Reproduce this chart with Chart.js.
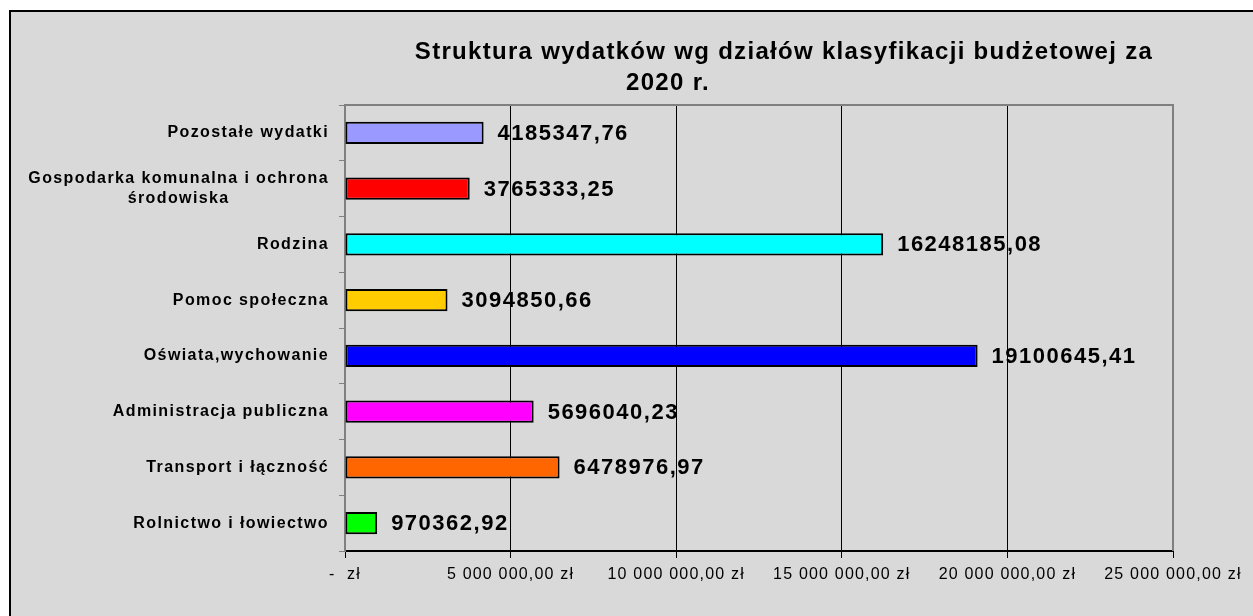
<!DOCTYPE html>
<html>
<head>
<meta charset="utf-8">
<script src="https://cdn.jsdelivr.net/npm/chart.js@4"></script>
<style>
body { margin: 0; background: #fff; width: 1253px; height: 616px; overflow: hidden; position: relative; }
#frame { position: absolute; left: 9px; top: 10px; width: 1300px; height: 700px; border: 2px solid #000; background: #d9d9d9; }
#wrap { position: absolute; left: 0; top: 0; width: 1253px; height: 616px; }
</style>
</head>
<body>
<div id="frame"></div>
<div id="wrap"><canvas id="myChart" width="1253" height="616"></canvas></div>
<script>
const categories = [
    ['Pozostałe wydatki'],
    ['Gospodarka komunalna i ochrona', 'środowiska'],
    ['Rodzina'],
    ['Pomoc społeczna'],
    ['Oświata,wychowanie'],
    ['Administracja publiczna'],
    ['Transport i łączność'],
    ['Rolnictwo i łowiectwo']
];
const amounts = [4185347.76, 3765333.25, 16248185.08, 3094850.66, 19100645.41, 5696040.23, 6478976.97, 970362.92];
const barColors = ['#9999ff', '#ff0000', '#00ffff', '#ffcc00', '#0000ff', '#ff00ff', '#ff6600', '#00ff00'];
const titleLines = ['Struktura wydatków wg działów klasyfikacji budżetowej za', '2020 r.'];
const axisMax = 25000000;
const axisStep = 5000000;

const FONT = '"Liberation Sans", Arial, sans-serif';

function formatZl(v) {
    if (v === 0) return '-  zł';
    const parts = v.toFixed(2).split('.');
    return parts[0].replace(/\B(?=(\d{3})+(?!\d))/g, ' ') + ',' + parts[1] + ' zł';
}

function formatAmount(v) {
    return v.toFixed(2).replace('.', ',');
}

const extras = {
    id: 'extras',
    // tick labels in the original are a bit spread out
    beforeLayout(chart) { chart.ctx.letterSpacing = '1.2px'; },
    beforeDraw(chart) { chart.ctx.letterSpacing = '1.2px'; },
    afterDraw(chart) {
        const ctx = chart.ctx;
        const area = chart.chartArea;
        const yScale = chart.scales.y;

        // grey frame of the plot area (top + right)
        ctx.save();
        ctx.strokeStyle = '#808080';
        ctx.lineWidth = 2;
        ctx.beginPath();
        ctx.moveTo(area.left, area.top);
        ctx.lineTo(area.right, area.top);
        ctx.lineTo(area.right, area.bottom);
        ctx.stroke();
        ctx.restore();

        // category labels
        ctx.save();
        ctx.fillStyle = '#000';
        ctx.font = 'bold 16px ' + FONT;
        ctx.letterSpacing = '1.4px';
        ctx.textBaseline = 'middle';
        ctx.textAlign = 'center';
        categories.forEach((lines, i) => {
            const y = yScale.getPixelForValue(i);
            const widths = lines.map(l => ctx.measureText(l).width);
            const w = Math.max(...widths);
            const cx = 329 - w / 2;
            const lh = 20;
            lines.forEach((l, j) => {
                ctx.fillText(l, cx, y + (j - (lines.length - 1) / 2) * lh);
            });
        });
        ctx.restore();

        // value labels
        ctx.save();
        ctx.fillStyle = '#000';
        ctx.font = 'bold 22px ' + FONT;
        ctx.letterSpacing = '1.5px';
        ctx.textBaseline = 'middle';
        ctx.textAlign = 'left';
        chart.getDatasetMeta(0).data.forEach((bar, i) => {
            ctx.fillText(formatAmount(amounts[i]), bar.x + 14, bar.y + 1);
        });
        ctx.restore();

        // title
        ctx.save();
        ctx.fillStyle = '#000';
        ctx.font = 'bold 24px ' + FONT;
        ctx.letterSpacing = '1.3px';
        ctx.textBaseline = 'middle';
        ctx.textAlign = 'center';
        ctx.fillText(titleLines[0], 784, 52);
        ctx.fillText(titleLines[1], 668, 83);
        ctx.restore();
    }
};

new Chart(document.getElementById('myChart'), {
    type: 'bar',
    data: {
        labels: categories.map(c => c.join(' ')),
        datasets: [{
            data: amounts,
            backgroundColor: barColors,
            borderColor: '#000',
            borderWidth: 2,
            borderSkipped: false,
            categoryPercentage: 1,
            barPercentage: 0.4
        }]
    },
    options: {
        indexAxis: 'y',
        responsive: false,
        animation: false,
        events: [],
        layout: { padding: { left: 0, top: 105, right: 80, bottom: 0 } },
        plugins: {
            legend: { display: false },
            title: { display: false },
            tooltip: { enabled: false }
        },
        scales: {
            x: {
                min: 0,
                max: axisMax,
                border: { color: '#000', width: 2 },
                grid: { color: '#000', lineWidth: 1, tickLength: 7, tickColor: '#000' },
                ticks: {
                    stepSize: axisStep,
                    maxRotation: 0,
                    padding: 7,
                    color: '#000',
                    font: { family: FONT, size: 16 },
                    callback: v => formatZl(v)
                },
                afterFit: s => { s.height = 65; }
            },
            y: {
                border: { color: '#808080', width: 2 },
                grid: { offset: true, drawOnChartArea: false, tickLength: 6, color: '#808080' },
                ticks: { display: false },
                afterFit: s => { s.width = 345; }
            }
        }
    },
    plugins: [extras]
});
</script>
</body>
</html>
